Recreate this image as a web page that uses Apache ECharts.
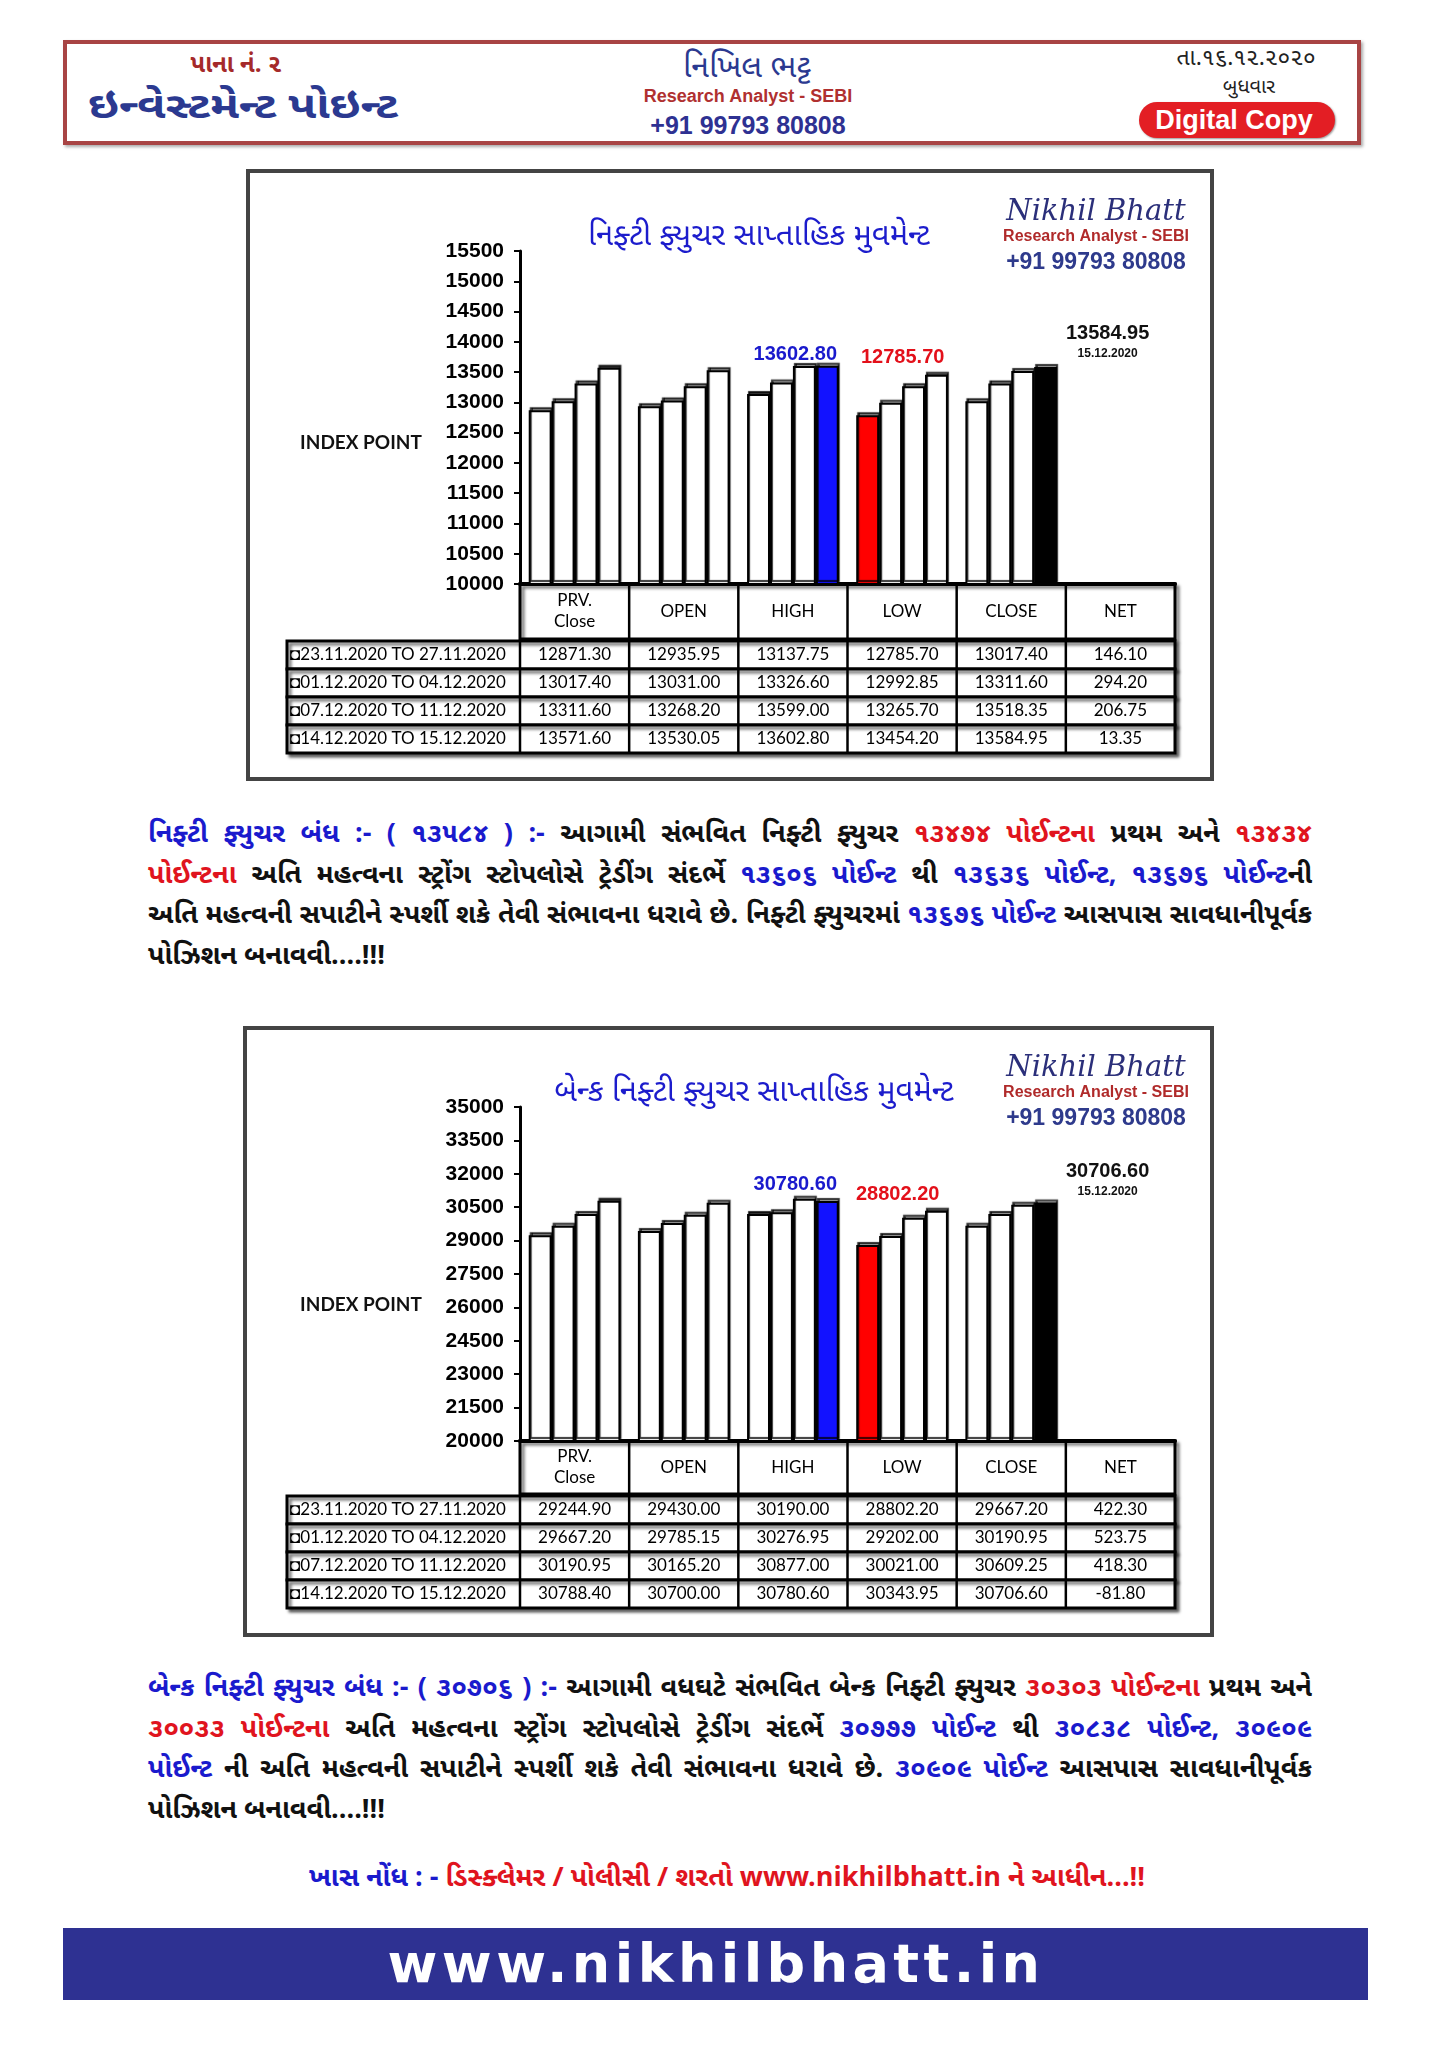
<!DOCTYPE html>
<html><head><meta charset="utf-8">
<script src="https://cdn.jsdelivr.net/npm/echarts@6/dist/echarts.min.js"></script>
<style>
html,body{margin:0;padding:0;background:#fff;}
#page{position:relative;width:1448px;height:2048px;overflow:hidden;background:#fff;
 font-family:"Noto Sans Gujarati","Lohit Gujarati","Shruti","Noto Sans","Liberation Sans",sans-serif;}
.t{position:absolute;white-space:nowrap;transform:translate(-50%,-50%);line-height:1.2;}
.box{position:absolute;box-sizing:border-box;}
.para{position:absolute;left:148px;width:1164px;font-size:27px;font-weight:bold;color:#111;}
.para div{height:40.7px;line-height:40.7px;text-align:justify;text-align-last:justify;white-space:nowrap;overflow:visible;}
.para div.last{text-align-last:left;}
.b{color:#1a1acd;} .r{color:#e0141e;}
.chart{position:absolute;}
</style></head><body><div id="page">

<div class="box" style="left:63px;top:40px;width:1298px;height:105px;border:4px solid #a84444;box-shadow:2px 2px 3px #aaa;"></div>
<div class="t" style="left:236px;top:66px;font-size:24px;font-weight:bold;color:#a52a2a;">પાના નં. ૨</div>
<div class="t" style="left:243px;top:110px;font-size:36px;font-weight:bold;color:#2b3990;transform:translate(-50%,-50%) scaleX(1.28);">ઇન્વેસ્ટમેન્ટ પોઇન્ટ</div>
<div class="t" style="left:747px;top:69px;font-size:32px;color:#2b3990;">નિખિલ ભટ્ટ</div>
<div class="t" style="left:748px;top:97px;font-size:18px;font-weight:bold;color:#b03030;font-family:'Liberation Sans Narrow','Liberation Sans',Arial,sans-serif;">Research Analyst - SEBI</div>
<div class="t" style="left:748px;top:125px;font-size:25px;font-weight:bold;color:#2e3192;font-family:'Liberation Sans',Arial,sans-serif;">+91 99793 80808</div>
<div class="t" style="left:1246px;top:60px;font-size:23px;color:#222;">તા.૧૬.૧૨.૨૦૨૦</div>
<div class="t" style="left:1249px;top:88px;font-size:20px;color:#222;">બુધવાર</div>
<div class="box" style="left:1139px;top:102px;width:196px;height:36px;border-radius:18px;background:#e31e24;box-shadow:1px 1px 2px #999;"></div>
<div class="t" style="left:1234px;top:120px;font-size:27px;font-weight:bold;color:#fff;font-family:'Liberation Sans',Arial,sans-serif;">Digital Copy</div>

<div id="c1" class="chart" style="left:246px;top:169px;width:968px;height:612px;"></div>

<div class="para" style="top:816px;">
<div><span class="b">નિફ્ટી ફ્યુચર બંધ :- ( ૧૩૫૮૪ ) :-</span> આગામી સંભવિત નિફ્ટી ફ્યુચર <span class="r">૧૩૪૭૪ પોઈન્ટના</span> પ્રથમ અને <span class="r">૧૩૪૩૪</span></div>
<div><span class="r">પોઈન્ટના</span> અતિ મહત્વના સ્ટ્રોંગ સ્ટોપલોસે ટ્રેડીંગ સંદર્ભે <span class="b">૧૩૬૦૬ પોઈન્ટ</span> થી <span class="b">૧૩૬૩૬ પોઈન્ટ, ૧૩૬૭૬ પોઈન્ટ</span>ની</div>
<div>અતિ મહત્વની સપાટીને સ્પર્શી શકે તેવી સંભાવના ધરાવે છે. નિફ્ટી ફ્યુચરમાં <span class="b">૧૩૬૭૬ પોઈન્ટ</span> આસપાસ સાવધાનીપૂર્વક</div>
<div class="last">પોઝિશન બનાવવી....!!!</div>
</div>

<div id="c2" class="chart" style="left:243px;top:1026px;width:971px;height:611px;"></div>

<div class="para" style="top:1670px;">
<div><span class="b">બેન્ક નિફ્ટી ફ્યુચર બંધ :- ( ૩૦૭૦૬ ) :-</span> આગામી વધઘટે સંભવિત બેન્ક નિફ્ટી ફ્યુચર <span class="r">૩૦૩૦૩ પોઈન્ટના</span> પ્રથમ અને</div>
<div><span class="r">૩૦૦૩૩ પોઈન્ટના</span> અતિ મહત્વના સ્ટ્રોંગ સ્ટોપલોસે ટ્રેડીંગ સંદર્ભે <span class="b">૩૦૭૭૭ પોઈન્ટ</span> થી <span class="b">૩૦૮૩૮ પોઈન્ટ, ૩૦૯૦૯</span></div>
<div><span class="b">પોઈન્ટ</span> ની અતિ મહત્વની સપાટીને સ્પર્શી શકે તેવી સંભાવના ધરાવે છે. <span class="b">૩૦૯૦૯ પોઈન્ટ</span> આસપાસ સાવધાનીપૂર્વક</div>
<div class="last">પોઝિશન બનાવવી....!!!</div>
</div>

<div class="t" style="left:727px;top:1880px;font-size:27px;font-weight:bold;"><span class="b">ખાસ નોંધ : - </span><span class="r">ડિસ્ક્લેમર / પોલીસી / શરતો www.nikhilbhatt.in ને આધીન...!!</span></div>

<div class="box" style="left:63px;top:1928px;width:1305px;height:72px;background:#2e3192;"></div>
<div class="t" style="left:716px;top:1964px;font-size:54px;font-weight:bold;color:#fff;letter-spacing:4.4px;font-family:'DejaVu Sans','Liberation Sans',sans-serif;">www.nikhilbhatt.in</div>

</div>
<script>
// ---------- DATA ----------
const columns = ['PRV.\nClose', 'OPEN', 'HIGH', 'LOW', 'CLOSE', 'NET'];
const weekLabels = ['23.11.2020 TO 27.11.2020', '01.12.2020 TO 04.12.2020', '07.12.2020 TO 11.12.2020', '14.12.2020 TO 15.12.2020'];

const niftyPrv   = [12871.30, 13017.40, 13311.60, 13571.60];
const niftyOpen  = [12935.95, 13031.00, 13268.20, 13530.05];
const niftyHigh  = [13137.75, 13326.60, 13599.00, 13602.80];
const niftyLow   = [12785.70, 12992.85, 13265.70, 13454.20];
const niftyClose = [13017.40, 13311.60, 13518.35, 13584.95];
const niftyNet   = [146.10, 294.20, 206.75, 13.35];
const niftyAxis  = {min: 10000, max: 15500, interval: 500};

const bankPrv   = [29244.90, 29667.20, 30190.95, 30788.40];
const bankOpen  = [29430.00, 29785.15, 30165.20, 30700.00];
const bankHigh  = [30190.00, 30276.95, 30877.00, 30780.60];
const bankLow   = [28802.20, 29202.00, 30021.00, 30343.95];
const bankClose = [29667.20, 30190.95, 30609.25, 30706.60];
const bankNet   = [422.30, 523.75, 418.30, -81.80];
const bankAxis  = {min: 20000, max: 35000, interval: 1500};

const closeDate = '15.12.2020';
const niftyTitle = 'નિફ્ટી ફ્યુચર સાપ્તાહિક મુવમેન્ટ';
const bankTitle = 'બેન્ક નિફ્ટી ફ્યુચર સાપ્તાહિક મુવમેન્ટ';
const brandName = 'Nikhil Bhatt';
const brandRole = 'Research Analyst - SEBI';
const brandPhone = '+91 99793 80808';
const yAxisTitle = 'INDEX POINT';

// ---------- BUILD ----------
const GUJ = '"Noto Sans Gujarati","Lohit Gujarati","Shruti","Noto Sans",sans-serif';
const ARIAL = '"Liberation Sans",Arial,sans-serif';
const TBL = 'Lato,"Noto Sans",sans-serif';

function build(el, cfg) {
  const chart = echarts.init(el, null, {renderer: 'canvas'});
  const W = el.clientWidth, H = el.clientHeight;
  const ox = el.offsetLeft, oy = el.offsetTop;   // page origin of this chart box
  const gL = 520 - ox, gW = 655, gT = cfg.gridTop - oy, gH = cfg.gridHeight;
  const colW = gW / columns.length;
  const groups = [cfg.prv, cfg.open, cfg.high, cfg.low, cfg.close];
  const barShadow = {shadowColor: 'rgba(0,0,0,0.8)', shadowBlur: 1, shadowOffsetX: 1, shadowOffsetY: -3};

  const series = [0, 1, 2, 3].map(w => {
    const data = groups.map((g, c) => {
      const item = {value: g[w]};
      const hl = cfg.highlights.find(h => h.col === c && h.week === w);
      if (hl) {
        item.itemStyle = Object.assign({color: hl.fill, borderColor: '#000', borderWidth: 2}, barShadow);
        item.label = Object.assign({
          show: true, position: 'top', offset: hl.offset,
          fontFamily: ARIAL, fontWeight: 'bold', fontSize: 20, color: hl.text
        }, hl.rich ? {
          formatter: '{a|' + g[w].toFixed(2) + '}\n{b|' + closeDate + '}',
          rich: {a: {fontFamily: ARIAL, fontWeight: 'bold', fontSize: 20, color: '#111', lineHeight: 22, align: 'center'},
                 b: {fontFamily: ARIAL, fontWeight: 'bold', fontSize: 12, color: '#111', lineHeight: 18, align: 'center'}}
        } : {formatter: g[w].toFixed(2)});
      }
      return item;
    });
    data.push(null);
    return {
      type: 'bar', name: weekLabels[w], data,
      barGap: '0%', barCategoryGap: '16%',
      itemStyle: Object.assign({color: '#fff', borderColor: '#000', borderWidth: 2}, barShadow),
      emphasis: {disabled: true}, animation: false
    };
  });

  const bx = 1096 - ox;
  const gfx = [];
  gfx.push({type: 'rect', shape: {x: 2, y: 2, width: W - 4, height: H - 4},
            style: {fill: null, stroke: '#444', lineWidth: 4}, z: 1});
  gfx.push({type: 'text', x: cfg.titleX - ox, y: cfg.titleY - oy, z: 5,
            style: {text: cfg.title, fontFamily: GUJ, fontSize: 31, fill: '#1c1ccc', align: 'center', verticalAlign: 'middle'}});
  gfx.push({type: 'text', x: bx, y: cfg.brandY - oy, z: 5,
            style: {text: brandName, fontFamily: '"DejaVu Serif","Liberation Serif",serif', fontStyle: 'italic', fontSize: 29, fill: '#2b2f7a', align: 'center', verticalAlign: 'middle'}});
  gfx.push({type: 'text', x: bx, y: cfg.brandY - oy + 25, z: 5,
            style: {text: brandRole, fontFamily: ARIAL, fontWeight: 'bold', fontSize: 16, fill: '#b02a2a', align: 'center', verticalAlign: 'middle'}});
  gfx.push({type: 'text', x: bx, y: cfg.brandY - oy + 51, z: 5,
            style: {text: brandPhone, fontFamily: ARIAL, fontWeight: 'bold', fontSize: 23, fill: '#2e3a8c', align: 'center', verticalAlign: 'middle'}});
  gfx.push({type: 'text', x: 361 - ox, y: cfg.indexY - oy, z: 5,
            style: {text: yAxisTitle, fontFamily: TBL, fontWeight: 'bold', fontSize: 19, fill: '#111', align: 'center', verticalAlign: 'middle'}});

  const shadow = {shadowBlur: 3, shadowOffsetX: 3, shadowOffsetY: 3, shadowColor: 'rgba(0,0,0,0.55)'};
  const hT = gT + gH, hH = cfg.headerH;
  gfx.push({type: 'rect', z: 2, shape: {x: gL, y: hT, width: gW, height: hH},
            style: Object.assign({fill: null, stroke: '#000', lineWidth: 3}, shadow)});
  for (let c = 1; c < columns.length; c++) {
    gfx.push({type: 'line', z: 3, shape: {x1: gL + c * colW, y1: hT, x2: gL + c * colW, y2: hT + hH},
              style: {stroke: '#000', lineWidth: 2.5}});
  }
  const rows = cfg.prv.map((_, i) => [cfg.prv[i], cfg.open[i], cfg.high[i], cfg.low[i], cfg.close[i], cfg.net[i]]);
  const rT = hT + hH + 2, rH = cfg.rowH, lblL = 287 - ox;
  rows.forEach((vals, r) => {
    const y = rT + r * rH;
    gfx.push({type: 'rect', z: 2, shape: {x: lblL, y: y, width: gL + gW - lblL, height: rH},
              style: Object.assign({fill: '#fff', stroke: '#000', lineWidth: 3}, shadow)});
    for (let c = 0; c < columns.length; c++) {
      gfx.push({type: 'line', z: 3, shape: {x1: gL + c * colW, y1: y, x2: gL + c * colW, y2: y + rH},
                style: {stroke: '#000', lineWidth: 2.5}});
    }
    gfx.push({type: 'text', z: 4, x: lblL + 3, y: y + rH / 2,
              style: {text: '\u25D8' + weekLabels[r], fontFamily: TBL, fontSize: 17, fill: '#000', align: 'left', verticalAlign: 'middle'}});
    vals.forEach((v, c) => {
      gfx.push({type: 'text', z: 4, x: gL + (c + 0.5) * colW, y: y + rH / 2,
                style: {text: v.toFixed(2), fontFamily: TBL, fontSize: 17, fill: '#000', align: 'center', verticalAlign: 'middle'}});
    });
  });

  chart.setOption({
    animation: false,
    backgroundColor: '#fff',
    grid: {left: gL, top: gT, width: gW, height: gH, containLabel: false},
    xAxis: {
      type: 'category', data: columns,
      axisLine: {onZero: false, lineStyle: {color: '#000', width: 4}},
      axisTick: {show: false},
      axisLabel: {interval: 0, margin: hH / 2, verticalAlign: 'middle', fontFamily: TBL, fontSize: 17, lineHeight: 21, color: '#000'}
    },
    yAxis: {
      type: 'value', min: cfg.axis.min, max: cfg.axis.max, interval: cfg.axis.interval,
      axisLine: {show: true, onZero: false, lineStyle: {color: '#000', width: 3}},
      axisTick: {show: true, length: 6, lineStyle: {color: '#000', width: 2}},
      splitLine: {show: false},
      axisLabel: {fontFamily: ARIAL, fontWeight: 'bold', fontSize: 21, color: '#000', margin: 16,
                  formatter: v => String(v)}
    },
    series,
    graphic: {elements: gfx}
  });
}

build(document.getElementById('c1'), {
  prv: niftyPrv, open: niftyOpen, high: niftyHigh, low: niftyLow, close: niftyClose, net: niftyNet,
  axis: niftyAxis, title: niftyTitle,
  gridTop: 251, gridHeight: 333, headerH: 55, rowH: 28,
  titleX: 759, titleY: 239, brandY: 212, indexY: 443,
  highlights: [
    {col: 2, week: 3, fill: '#1212ff', text: '#1a1acd', offset: [-32, 4]},
    {col: 3, week: 0, fill: '#ff0000', text: '#e3101a', offset: [35, -43]},
    {col: 4, week: 3, fill: '#000000', text: '#111', offset: [62, 1], rich: true}
  ]
});

build(document.getElementById('c2'), {
  prv: bankPrv, open: bankOpen, high: bankHigh, low: bankLow, close: bankClose, net: bankNet,
  axis: bankAxis, title: bankTitle,
  gridTop: 1107, gridHeight: 334, headerH: 53, rowH: 28,
  titleX: 754, titleY: 1095, brandY: 1068, indexY: 1305,
  highlights: [
    {col: 2, week: 3, fill: '#1212ff', text: '#1a1acd', offset: [-32, -1]},
    {col: 3, week: 0, fill: '#ff0000', text: '#e3101a', offset: [30, -36]},
    {col: 4, week: 3, fill: '#000000', text: '#111', offset: [62, 3], rich: true}
  ]
});
</script>
</body></html>
